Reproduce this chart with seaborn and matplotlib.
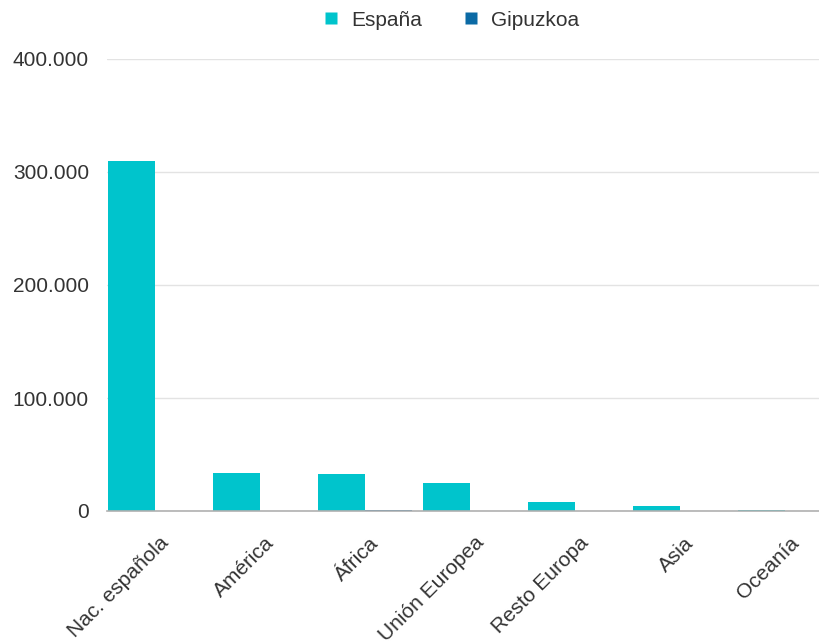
import matplotlib
matplotlib.use("Agg")
import matplotlib.pyplot as plt
import matplotlib.transforms as mtransforms
import seaborn as sns
import pandas as pd
from matplotlib.ticker import FuncFormatter, FixedLocator
from matplotlib.lines import Line2D

categories = ["Nac. española", "América", "África", "Unión Europea", "Resto Europa", "Asia", "Oceanía"]
espana = [310000, 33500, 32500, 24800, 8300, 4000, 700]
gipuzkoa = [300, 400, 1200, 300, 100, 60, 10]
series = ["España", "Gipuzkoa"]
colors = ["#00C4CC", "#0B6AA5"]
yticks = [0, 100000, 200000, 300000, 400000]

df = pd.DataFrame({
    "cat": categories * 2,
    "serie": [series[0]] * len(categories) + [series[1]] * len(categories),
    "valor": espana + gipuzkoa,
})

sns.set_theme(style="white")
plt.rcParams["font.family"] = ["Liberation Sans", "DejaVu Sans"]

fig = plt.figure(figsize=(8.2, 6.43), dpi=100)
ax = fig.add_axes([107 / 820, 132 / 643, 1 - 107 / 820, (511 - 59) / 643])

sns.barplot(data=df, x="cat", y="valor", hue="serie", palette=colors,
            width=0.9, ax=ax, legend=False, saturation=1)

for p in ax.patches:
    p.set_edgecolor("none")

ax.set_xlim(-0.457, 6.333)
ax.set_ylim(0, 400000)
ax.yaxis.set_major_locator(FixedLocator(yticks))
ax.yaxis.set_major_formatter(FuncFormatter(lambda v, _: f"{int(v):,}".replace(",", ".")))
ax.grid(axis="y", color="#e3e3e3", linewidth=1)
ax.set_axisbelow(True)
for s in ["top", "right", "left"]:
    ax.spines[s].set_visible(False)
ax.spines["bottom"].set_color("#b0b0b0")
ax.spines["bottom"].set_linewidth(1.2)
ax.set_xlabel("")
ax.set_ylabel("")
ax.tick_params(axis="y", length=0, pad=13, labelsize=15, labelcolor="#333333")
ax.tick_params(axis="x", length=0, pad=0, labelsize=15, labelcolor="#333333")
ax.set_xticks(range(len(categories)))
ax.set_xticklabels(categories, rotation=45, ha="right", va="center", rotation_mode="anchor")
offset = mtransforms.ScaledTranslation(11 / 100, -29 / 100, fig.dpi_scale_trans)
for lbl in ax.get_xticklabels():
    lbl.set_transform(lbl.get_transform() + offset)

handles = [Line2D([], [], marker="s", linestyle="none", markersize=8,
                  markerfacecolor=c, markeredgecolor="none") for c in colors]
fig.legend(handles, series, loc="center", bbox_to_anchor=(451 / 820, 1 - 20 / 643),
           ncol=2, frameon=False, fontsize=15, handlelength=0.8, handletextpad=0.6,
           columnspacing=1.9, labelcolor="#333333")

fig.savefig("out.png", dpi=100)
